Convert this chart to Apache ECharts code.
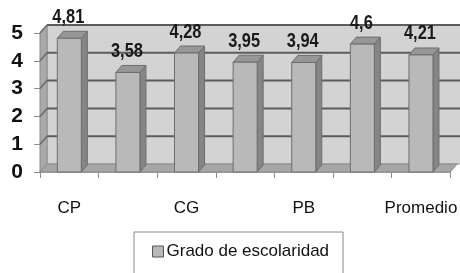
<!DOCTYPE html>
<html>
<head>
<meta charset="utf-8">
<script src="https://cdn.jsdelivr.net/npm/echarts@6/dist/echarts.min.js"></script>
<style>
  html, body { margin: 0; padding: 0; background: #fff; }
  #chart-container { width: 460px; height: 273px; }
</style>
</head>
<body>
<div id="chart-container"></div>
<script>
// datos
const categorias = ['CP', 'CA', 'CG', 'CM', 'PB', 'PM', 'Promedio'];
const valores = [4.81, 3.58, 4.28, 3.95, 3.94, 4.6, 4.21];
const ticksY = [0, 1, 2, 3, 4, 5];
const nombreSerie = 'Grado de escolaridad';

const FUENTE = '"Liberation Sans Narrow", "Liberation Sans", Arial, sans-serif';

// profundidad del efecto 3D
const PX = 7, PY = -8;   // paredes
const BX = 6, BY = -7;   // barras

// Pared del fondo, pared izquierda, piso y lineas de division
const dibujarMarco = (params, api) => {
    const cs = params.coordSys;
    const izq = cs.x, der = cs.x + cs.width, arr = cs.y, abj = cs.y + cs.height;
    const hijos = [];
    hijos.push({
        type: 'rect',
        shape: { x: izq + PX, y: arr + PY, width: cs.width + 10, height: cs.height },
        style: { fill: '#d3d3d3', stroke: '#9a9a9a', lineWidth: 1 }
    });
    hijos.push({
        type: 'polygon',
        shape: { points: [[izq, arr], [izq + PX, arr + PY], [izq + PX, abj + PY], [izq, abj]] },
        style: { fill: '#a9a9a9', stroke: '#8a8a8a', lineWidth: 1 }
    });
    hijos.push({
        type: 'polygon',
        shape: { points: [[izq, abj], [izq + PX, abj + PY], [der + PX, abj + PY], [der, abj]] },
        style: { fill: '#a6a6a6', stroke: '#8a8a8a', lineWidth: 1 }
    });
    ticksY.forEach(t => {
        if (t === 0) return;
        const y = api.coord([0, t])[1];
        hijos.push({
            type: 'line',
            shape: { x1: izq + PX, y1: y + PY, x2: der + PX + 10, y2: y + PY },
            style: { stroke: '#5c5c5c', lineWidth: 2 }
        });
        hijos.push({
            type: 'line',
            shape: { x1: izq, y1: y, x2: izq + PX, y2: y + PY },
            style: { stroke: '#6a6a6a', lineWidth: 1.5 }
        });
    });
    return { type: 'group', children: hijos };
};

// Barra con cara frontal, lateral y superior
const dibujarBarra = (params, api) => {
    const i = api.value(0);
    const v = api.value(1);
    const tope = api.coord([i, v]);
    const base = api.coord([i, 0]);
    const ancho = api.size([1, 0])[0] * 0.41;
    const x0 = tope[0] - ancho / 2, x1 = tope[0] + ancho / 2;
    const y0 = tope[1], y1 = base[1];
    const etiqueta = String(v).replace('.', ',');
    return {
        type: 'group',
        children: [
            {
                type: 'polygon',
                shape: { points: [[x1, y0], [x1 + BX, y0 + BY], [x1 + BX, y1 + BY], [x1, y1]] },
                style: { fill: '#858585', stroke: '#6e6e6e', lineWidth: 1 }
            },
            {
                type: 'polygon',
                shape: { points: [[x0, y0], [x0 + BX, y0 + BY], [x1 + BX, y0 + BY], [x1, y0]] },
                style: { fill: '#979797', stroke: '#6e6e6e', lineWidth: 1 }
            },
            {
                type: 'rect',
                shape: { x: x0, y: y0, width: ancho, height: y1 - y0 },
                style: { fill: '#b9b9b9', stroke: '#6e6e6e', lineWidth: 1 }
            },
            {
                type: 'text',
                x: tope[0] - 1,
                y: y0 + BY - 4,
                scaleX: 0.82,
                style: {
                    text: etiqueta, x: 0, y: 0,
                    align: 'center', verticalAlign: 'bottom',
                    font: 'bold 20px ' + FUENTE, fill: '#1a1a1a'
                }
            }
        ]
    };
};

const myChart = echarts.init(document.getElementById('chart-container'));

const option = {
    animation: false,
    grid: { left: 40, right: 5, top: 33, bottom: 101 },
    legend: {
        data: [{ name: nombreSerie, icon: 'rect', itemStyle: { color: '#b9b9b9', borderColor: '#555', borderWidth: 1 } }],
        top: 232,
        left: 134,
        itemWidth: 11,
        itemHeight: 11,
        itemGap: 4,
        padding: [11, 14, 14, 18],
        borderColor: '#8a8a8a',
        borderWidth: 1,
        textStyle: { fontFamily: FUENTE, fontSize: 17, color: '#111', padding: [0, 0, 0, -2] }
    },
    xAxis: {
        type: 'category',
        data: categorias,
        axisLine: { show: true, lineStyle: { color: '#8c8c8c', width: 1.5 } },
        axisTick: { show: true, length: 6, interval: 0, lineStyle: { color: '#8c8c8c' } },
        axisLabel: { interval: 1, margin: 28, fontFamily: FUENTE, fontSize: 17, color: '#111' },
        splitLine: { show: false }
    },
    yAxis: {
        type: 'value',
        min: 0,
        max: 5,
        interval: 1,
        axisLine: { show: true, lineStyle: { color: '#8c8c8c', width: 1 } },
        axisTick: { show: true, length: 6, lineStyle: { color: '#8c8c8c' } },
        axisLabel: { margin: 17, fontFamily: FUENTE, fontSize: 21, fontWeight: 'bold', color: '#111' },
        splitLine: { show: false }
    },
    series: [
        {
            name: 'marco',
            type: 'custom',
            renderItem: dibujarMarco,
            data: [[0, 0]],
            silent: true,
            z: 1
        },
        {
            name: nombreSerie,
            type: 'custom',
            renderItem: dibujarBarra,
            data: valores.map((v, i) => [i, v]),
            itemStyle: { color: '#b9b9b9' },
            clip: false,
            z: 3
        }
    ]
};

myChart.setOption(option);
</script>
</body>
</html>
